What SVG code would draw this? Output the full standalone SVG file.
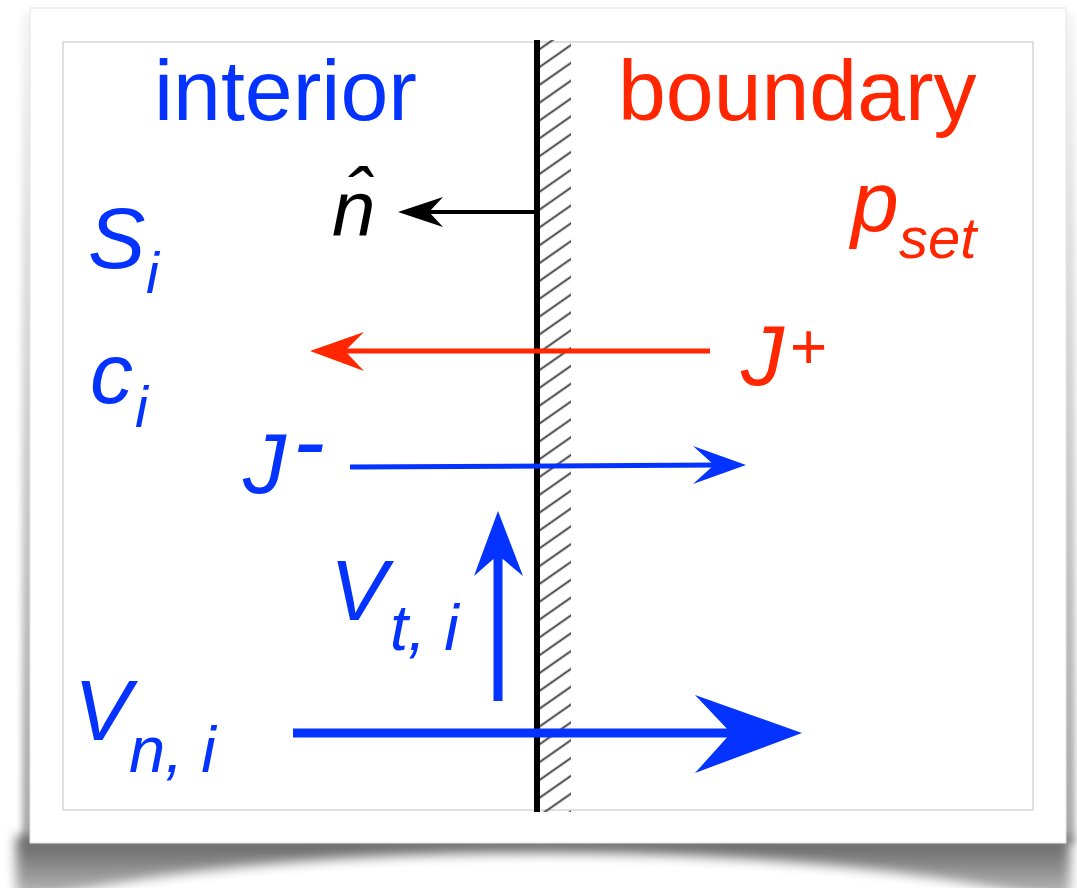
<svg xmlns="http://www.w3.org/2000/svg" width="1077" height="888" viewBox="0 0 1077 888">
  <style>
    .t { font-family: "Liberation Sans", Arial, Helvetica, sans-serif; }
    .it { font-style: italic; }
    .blue { fill: #0433FF; }
    .red { fill: #FF2600; }
    .blk { fill: #000000; }
    .big { font-size: 86px; }
    .sub { font-size: 58px; }
    .vsub { font-size: 65px; }
    .ln-blue { stroke: #0433FF; fill: none; }
    .ln-red { stroke: #FF2600; fill: none; }
    .ln-blk { stroke: #000000; fill: none; }
  </style>
  <defs>
    <filter id="blur6" x="-20%" y="-50%" width="140%" height="200%">
      <feGaussianBlur stdDeviation="6"/>
    </filter>
    <filter id="blur3" x="-50%" y="-10%" width="200%" height="120%">
      <feGaussianBlur stdDeviation="3"/>
    </filter>
    <linearGradient id="gBottom" x1="0" y1="0" x2="0" y2="1">
      <stop offset="0" stop-color="#5e5e5e"/>
      <stop offset="1" stop-color="#b8b8b8"/>
    </linearGradient>
    <linearGradient id="gSide" x1="0" y1="0" x2="0" y2="1">
      <stop offset="0" stop-color="#f4f4f4"/>
      <stop offset="1" stop-color="#a8a8a8"/>
    </linearGradient>
    <pattern id="hatch" patternUnits="userSpaceOnUse" x="540" y="40" width="20" height="14.6" patternTransform="rotate(-35 540 40)">
      <line x1="-1" y1="7.3" x2="21" y2="7.3" stroke="#333333" stroke-width="1.8"/>
    </pattern>
  </defs>

  <rect width="1077" height="888" fill="#ffffff"/>

  <!-- card shadow -->
  <g id="shadow">
    <rect x="22" y="14" width="14" height="830" fill="url(#gSide)" filter="url(#blur3)"/>
    <rect x="1061" y="14" width="14" height="830" fill="url(#gSide)" filter="url(#blur3)"/>
    <rect x="16" y="836" width="1054" height="60" fill="url(#gBottom)" filter="url(#blur6)"/>
    <ellipse cx="543" cy="957" rx="600" ry="104" fill="#ffffff" filter="url(#blur6)"/>
  </g>

  <!-- card -->
  <g id="card">
    <rect x="30" y="8" width="1036" height="835" fill="#ffffff" stroke="#e4e4e4" stroke-width="1"/>
    <rect x="63" y="42" width="970" height="768" fill="#ffffff" stroke="#d6d6d6" stroke-width="1.5"/>
  </g>

  <!-- wall -->
  <g id="wall">
    <rect x="540" y="40" width="31" height="772" fill="url(#hatch)"/>
    <rect x="534" y="40" width="6" height="772" fill="#000000"/>
  </g>

  <!-- connectors -->
  <g id="connectors">
    <g id="arrow-normal">
      <line class="ln-blk" x1="535" y1="212" x2="425" y2="212" stroke-width="4"/>
      <path class="blk" d="M398,212 L443,197 L429,212 L443,227 Z"/>
    </g>
    <g id="arrow-jplus">
      <line class="ln-red" x1="710" y1="351" x2="345" y2="351" stroke-width="5"/>
      <path class="red" d="M310,351 L364,332 L345,351 L364,371 Z"/>
    </g>
    <g id="arrow-jminus">
      <line class="ln-blue" x1="350" y1="467" x2="716" y2="465" stroke-width="5"/>
      <path class="blue" d="M746,465 L693,446 L714,465 L693,484 Z"/>
    </g>
    <g id="arrow-vt">
      <line class="ln-blue" x1="498" y1="701" x2="498" y2="553" stroke-width="9"/>
      <path class="blue" d="M498,511 L523,576 L498,555 L474,576 Z"/>
    </g>
    <g id="arrow-vn">
      <line class="ln-blue" x1="293" y1="733" x2="733" y2="733" stroke-width="9"/>
      <path class="blue" d="M802,733 L695,695 L731,733 L695,773 Z"/>
    </g>
  </g>

  <!-- labels -->
  <g id="label-interior">
    <text class="t blue big" x="154" y="120">interior</text>
  </g>
  <g id="label-boundary">
    <text class="t red big" x="618" y="120">boundary</text>
  </g>
  <g id="label-nhat">
    <text class="t it blk" x="332" y="236" font-size="78">n&#x302;</text>
  </g>
  <g id="label-Si">
    <text class="t it blue"><tspan class="big" x="88" y="268">S</tspan><tspan class="sub" x="146" y="293">i</tspan></text>
  </g>
  <g id="label-ci">
    <text class="t it blue"><tspan class="big" x="90" y="403">c</tspan><tspan class="sub" x="135" y="427">i</tspan></text>
  </g>
  <g id="label-pset">
    <text class="t it red"><tspan class="big" x="851" y="231">p</tspan><tspan class="sub" x="899" y="258">set</tspan></text>
  </g>
  <g id="label-Jplus">
    <text class="t it red"><tspan class="big" x="741" y="385">J</tspan><tspan x="789" y="369" font-size="64">+</tspan></text>
  </g>
  <g id="label-Jminus">
    <text class="t it blue"><tspan class="big" x="243" y="493">J</tspan><tspan x="293" y="474" font-size="96">-</tspan></text>
  </g>
  <g id="label-Vti">
    <text class="t it blue"><tspan class="big" x="330" y="620">V</tspan><tspan class="vsub" x="390" y="650">t, i</tspan></text>
  </g>
  <g id="label-Vni">
    <text class="t it blue"><tspan class="big" x="74" y="740">V</tspan><tspan class="vsub" x="129" y="772">n, i</tspan></text>
  </g>
</svg>
